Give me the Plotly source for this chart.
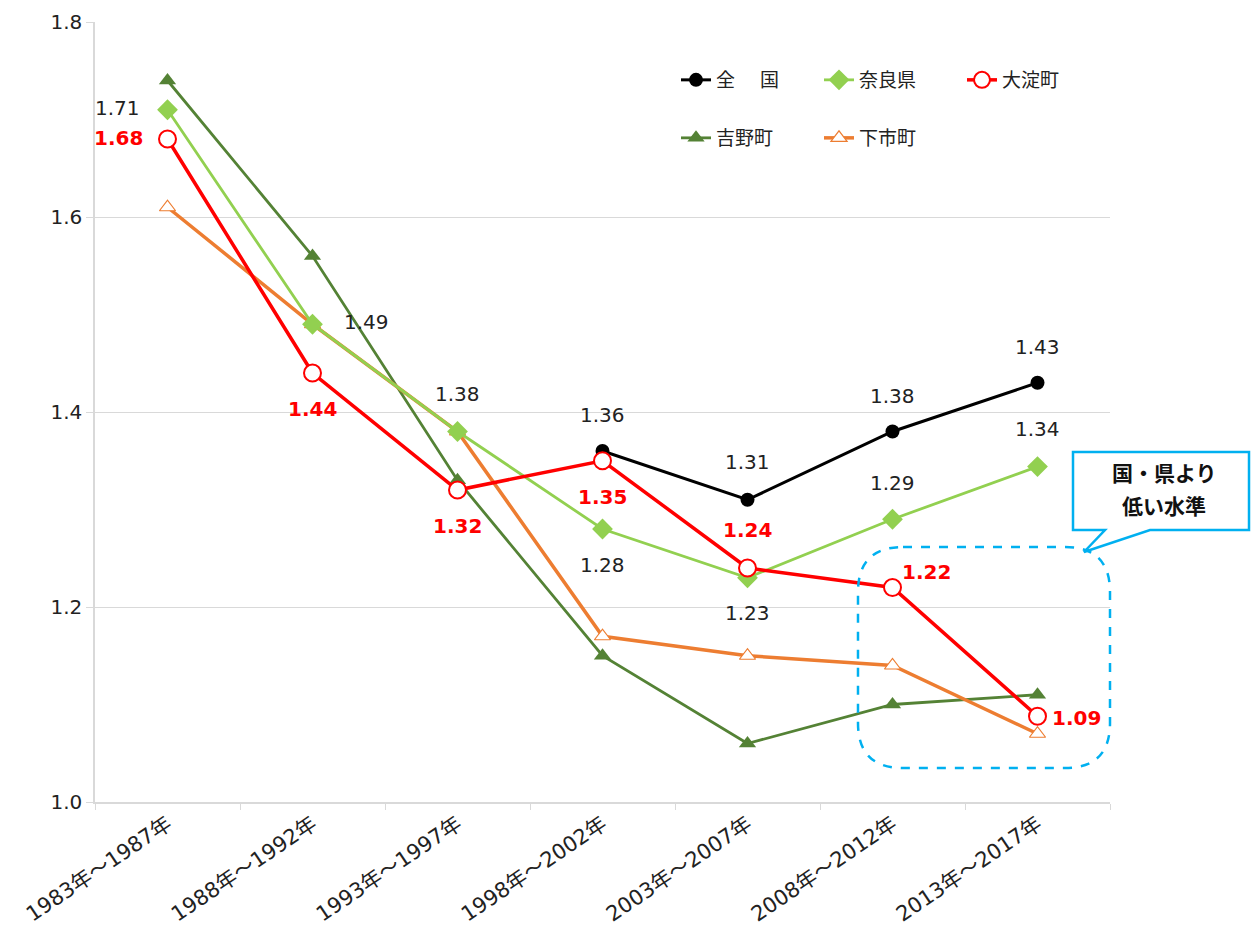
import plotly.graph_objects as go

categories = ["1983年～1987年", "1988年～1992年", "1993年～1997年", "1998年～2002年",
              "2003年～2007年", "2008年～2012年", "2013年～2017年"]
zenkoku = [None, None, None, 1.36, 1.31, 1.38, 1.43]
nara = [1.71, 1.49, 1.38, 1.28, 1.23, 1.29, 1.344]
oyodo = [1.68, 1.44, 1.32, 1.35, 1.24, 1.22, 1.088]
yoshino = [1.74, 1.56, 1.33, 1.15, 1.06, 1.10, 1.11]
shimoichi = [1.61, 1.49, 1.38, 1.17, 1.15, 1.14, 1.07]
callout_lines = ["国・県より", "低い水準"]

FONT = "DejaVu Sans, Noto Sans CJK JP, sans-serif"
CJK = "Noto Sans CJK JP, sans-serif"
OFF = 8  # page body margin
W, H = 1260 - 2 * OFF, 939 - 2 * OFF
L, T = 95 - OFF, 22 - OFF
PW, PH = 1015, 780
R, B = W - L - PW, H - T - PH

def px(x):
    return (x - OFF - L) / PW

def py(y):
    return 1 - (y - OFF - T) / PH

fig = go.Figure()

def add(name, vals, color, width, symbol, size, fill, lw, legend, rank):
    fig.add_trace(go.Scatter(
        x=categories, y=vals, name=name, mode="lines+markers",
        line=dict(color=color, width=width),
        marker=dict(symbol=symbol, size=size, color=fill, line=dict(color=color, width=lw)),
        legend=legend, legendrank=rank, connectgaps=False,
    ))

add("吉野町", yoshino, "#548235", 2.8, "triangle-up", 15, "#548235", 0, "legend2", 1)
add("下市町", shimoichi, "#ED7D31", 3.5, "triangle-up", 14, "white", 1.2, "legend2", 2)
add("奈良県", nara, "#92D050", 2.8, "diamond", 16, "#92D050", 0, "legend", 2)
add("全　 国", zenkoku, "#000000", 3, "circle", 14, "#000000", 0, "legend", 1)
add("大淀町", oyodo, "#FF0000", 3.5, "circle", 17, "white", 2, "legend", 3)

# label offsets (px) : style only
nara_off = [(-50, 2), (54, 2), (0, 38), (0, -36), (0, -35), (0, 36), (0, 38)]
zen_off = [None, None, None, (0, 36), (0, 38), (0, 36), (0, 36)]
oyodo_off = [(-49, 1), (0, -36), (0, -36), (0, -36), (0, 38), (34, 16), (39, -2)]

annos = []
def labels(vals, offs, color, bold):
    for c, v, o in zip(categories, vals, offs):
        if v is None or o is None:
            continue
        t = f"{v:.2f}"
        if bold:
            t = f"<b>{t}</b>"
        annos.append(dict(x=c, y=v, xref="x", yref="y", text=t, showarrow=False,
                          xshift=o[0], yshift=o[1],
                          font=dict(family=FONT, size=20, color=color)))

labels(nara, nara_off, "#222222", False)
labels(zenkoku, zen_off, "#222222", False)
labels(oyodo, oyodo_off, "#FF0000", True)

# callout text (one annotation per line)
for line, yy in zip(callout_lines, [472, 505]):
    annos.append(dict(x=px(1164), y=py(yy), xref="paper", yref="paper",
                      xanchor="center", yanchor="middle",
                      text=f"<b>{line}</b>", showarrow=False,
                      font=dict(family=CJK, size=21, color="#111111")))

# dashed rounded rectangle
x0, x1, y0, y1, r = 858, 1110, 547, 768, 45
def P(x, y):
    return f"{px(x):.5f},{py(y):.5f}"
rr = (f"M {P(x0 + r, y0)} L {P(x1 - r, y0)} Q {P(x1, y0)} {P(x1, y0 + r)} "
      f"L {P(x1, y1 - r)} Q {P(x1, y1)} {P(x1 - r, y1)} L {P(x0 + r, y1)} "
      f"Q {P(x0, y1)} {P(x0, y1 - r)} L {P(x0, y0 + r)} Q {P(x0, y0)} {P(x0 + r, y0)} Z")
# callout box with tail
bx0, bx1, by0, by1 = 1073, 1249, 452, 530
co = (f"M {P(bx0, by0)} L {P(bx1, by0)} L {P(bx1, by1)} L {P(1150, by1)} "
      f"L {P(1084, 552)} L {P(1105, by1)} L {P(bx0, by1)} Z")
shapes = [
    dict(type="path", path=rr, xref="paper", yref="paper",
         line=dict(color="#00B0F0", width=2.5, dash="dash"), fillcolor="rgba(0,0,0,0)"),
    dict(type="path", path=co, xref="paper", yref="paper",
         line=dict(color="#00B0F0", width=2.5), fillcolor="white"),
]

legfont = dict(family=FONT, size=19, color="#222222")
fig.update_layout(
    width=W, height=H, margin=dict(l=L, r=R, t=T, b=B, autoexpand=False),
    paper_bgcolor="white", plot_bgcolor="white",
    font=dict(family=FONT, size=17, color="#222222"),
    annotations=annos, shapes=shapes,
    legend=dict(orientation="h", x=px(676), y=py(80), xanchor="left", yanchor="middle",
                entrywidth=98, font=legfont, bgcolor="rgba(0,0,0,0)", itemwidth=30),
    legend2=dict(orientation="h", x=px(676), y=py(138), xanchor="left", yanchor="middle",
                 entrywidth=98, font=legfont, bgcolor="rgba(0,0,0,0)", itemwidth=30),
    xaxis=dict(type="category", range=[-0.5, 6.5], showgrid=False, tickson="boundaries",
               ticks="outside", ticklen=6, tickcolor="#D9D9D9", showline=True,
               linecolor="#D9D9D9", linewidth=1.5, tickangle=-34,
               tickfont=dict(family=FONT, size=21, color="#222222")),
    yaxis=dict(range=[1.0, 1.8], dtick=0.2, tickformat=".1f", showgrid=True,
               gridcolor="#D9D9D9", gridwidth=1, ticks="outside", ticklen=7,
               tickcolor="#D9D9D9", showline=True, linecolor="#D9D9D9", linewidth=1.5,
               zeroline=False, tickfont=dict(family=FONT, size=20, color="#222222")),
)

fig.write_html("out.html")
